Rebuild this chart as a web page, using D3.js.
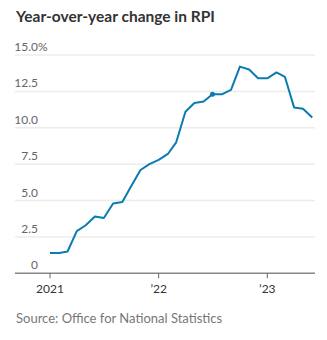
<!DOCTYPE html>
<html>
<head>
<meta charset="utf-8">
<script src="https://cdn.jsdelivr.net/npm/d3@7"></script>
<style>
  body { margin: 0; background: #fff; }
  svg { display: block; font-family: Lato, "Noto Sans", sans-serif; }
</style>
</head>
<body>
<div id="chart"></div>
<script>
// monthly RPI, year-over-year % change
var months = ["2021-01", "2021-02", "2021-03", "2021-04", "2021-05", "2021-06",
  "2021-07", "2021-08", "2021-09", "2021-10", "2021-11", "2021-12",
  "2022-01", "2022-02", "2022-03", "2022-04", "2022-05", "2022-06",
  "2022-07", "2022-08", "2022-09", "2022-10", "2022-11", "2022-12",
  "2023-01", "2023-02", "2023-03", "2023-04", "2023-05", "2023-06"];
var rpi = [1.4, 1.4, 1.5, 2.9, 3.3, 3.9, 3.8, 4.8, 4.9, 6.0, 7.1, 7.5,
  7.8, 8.2, 9.0, 11.1, 11.7, 11.8, 12.3, 12.3, 12.6, 14.2, 14.0, 13.4,
  13.4, 13.8, 13.5, 11.4, 11.3, 10.7];
var yTicks = [0, 2.5, 5, 7.5, 10, 12.5, 15];
var xTicks = ["2021-01", "2022-01", "2023-01"];
var xTickLabels = ["2021", "\u201922", "\u201923"];
var markedMonth = "2022-07";

var width = 327, height = 340;
var parseMonth = d3.timeParse("%Y-%m");

var data = months.map(function (m, i) {
  return { date: parseMonth(m), value: rpi[i] };
});

var svg = d3.select("#chart")
  .append("svg")
  .attr("width", width)
  .attr("height", height);

var x = d3.scaleTime()
  .domain([parseMonth("2021-01"), parseMonth("2023-01")])
  .range([50, 267.3]);
var y = d3.scaleLinear().domain([0, 15]).range([273.3, 55]);

var left = 15, right = 315;

svg.append("text")
  .attr("x", 16)
  .attr("y", 22)
  .attr("fill", "#333")
  .attr("font-size", 15.5)
  .attr("font-weight", "bold")
  .text("Year-over-year change in RPI");

// gridlines + labels sitting on top of them
var grid = svg.append("g");
grid.selectAll("line")
  .data(yTicks.filter(function (d) { return d > 0; }))
  .enter()
  .append("line")
  .attr("x1", left)
  .attr("x2", right)
  .attr("y1", function (d) { return y(d); })
  .attr("y2", function (d) { return y(d); })
  .attr("stroke", "#ececec")
  .attr("stroke-width", 1.5);

grid.selectAll("text")
  .data(yTicks)
  .enter()
  .append("text")
  .attr("x", 38)
  .attr("y", function (d) { return y(d) - 4; })
  .attr("text-anchor", "end")
  .attr("fill", "#666")
  .attr("font-size", 12)
  .text(function (d) { return d === 0 ? "0" : d3.format(".1f")(d); });

svg.append("text")
  .attr("x", 38)
  .attr("y", y(15) - 4)
  .attr("fill", "#666")
  .attr("font-size", 12)
  .text("%");

// x axis
svg.append("line")
  .attr("x1", left)
  .attr("x2", right)
  .attr("y1", y(0))
  .attr("y2", y(0))
  .attr("stroke", "#888")
  .attr("stroke-width", 1.5);

var xAxis = svg.append("g").selectAll("g")
  .data(xTicks)
  .enter()
  .append("g")
  .attr("transform", function (d) { return "translate(" + x(parseMonth(d)) + "," + y(0) + ")"; });

xAxis.append("line")
  .attr("y2", 5)
  .attr("stroke", "#666")
  .attr("stroke-width", 1);

xAxis.append("text")
  .attr("y", 20)
  .attr("text-anchor", "middle")
  .attr("fill", "#333")
  .attr("font-size", 12)
  .text(function (d, i) { return xTickLabels[i]; });

var valueline = d3.line()
  .x(function (d) { return x(d.date); })
  .y(function (d) { return y(d.value); });

svg.append("path")
  .datum(data)
  .attr("d", valueline)
  .attr("fill", "none")
  .attr("stroke", "#0a7cb0")
  .attr("stroke-width", 2)
  .attr("stroke-linejoin", "round");

var marked = data.filter(function (d) { return +d.date === +parseMonth(markedMonth); });
svg.selectAll(".dot")
  .data(marked)
  .enter()
  .append("circle")
  .attr("class", "dot")
  .attr("cx", function (d) { return x(d.date); })
  .attr("cy", function (d) { return y(d.value); })
  .attr("r", 2.5)
  .attr("fill", "#0a7cb0");

svg.append("text")
  .attr("x", 16)
  .attr("y", 323)
  .attr("fill", "#777")
  .attr("font-size", 13)
  .text("Source: Office for National Statistics");
</script>
</body>
</html>
